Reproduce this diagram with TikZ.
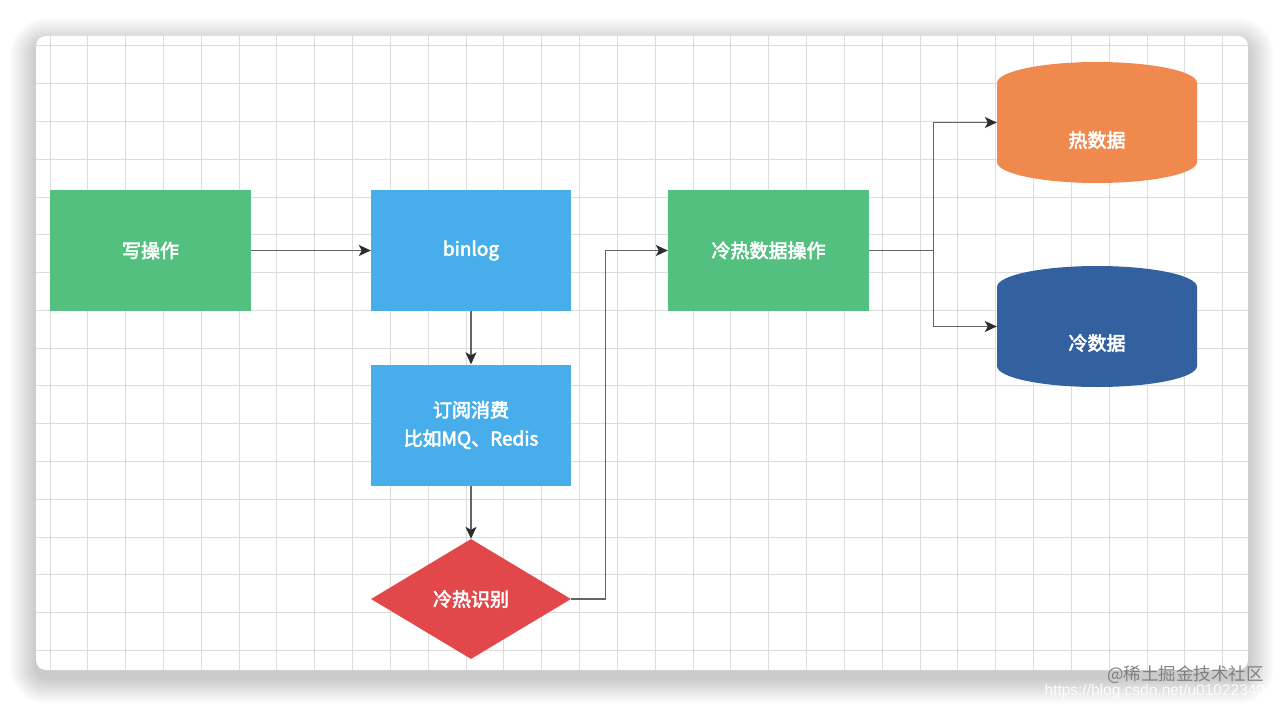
\documentclass[tikz,border=0pt]{standalone}
\usepackage{fontspec}
\setmainfont{Noto Sans CJK SC}
\newfontfamily\medfont{Noto Sans CJK SC}[FakeBold=3]
\newfontfamily\latinsans{Liberation Sans}
\usetikzlibrary{arrows.meta,shapes.geometric}
\definecolor{cgreen}{RGB}{83,192,127}
\definecolor{cblue}{RGB}{72,174,235}
\definecolor{cred}{RGB}{226,71,74}
\definecolor{corange}{RGB}{240,137,78}
\definecolor{cdblue}{RGB}{51,96,158}
\definecolor{cline}{RGB}{100,100,100}
\definecolor{ctip}{RGB}{45,45,45}
\definecolor{cgrid}{RGB}{220,220,220}
\newcommand{\mycyl}[3]{%
  \fill[#1] (#2,#3+21) .. controls (#2,#3+9.4) and (#2+44.8,#3) .. (#2+100,#3)
    .. controls (#2+155.2,#3) and (#2+200,#3+9.4) .. (#2+200,#3+21)
    -- (#2+200,#3+100) .. controls (#2+200,#3+111.6) and (#2+155.2,#3+121) .. (#2+100,#3+121)
    .. controls (#2+44.8,#3+121) and (#2,#3+111.6) .. (#2,#3+100) -- cycle;}
\tikzset{
  txt/.style={text=white,font=\medfont\fontsize{19}{28.5}\selectfont,align=center},
  boxnode/.style={txt,rectangle,inner sep=0pt,minimum width=#1,minimum height=121pt},
  boxnode/.default=200pt,
  decision/.style={txt,diamond,inner sep=0pt,minimum width=200pt,minimum height=120pt,fill=cred},
  cylbox/.style={rectangle,inner sep=0pt,minimum width=200pt,minimum height=121pt},
  edge/.style={draw=cline,line width=1.3pt,-{Stealth[length=12pt,width=11pt,inset=3pt,color=ctip]}},
  gridline/.style={draw=cgrid,line width=1pt},
}
\begin{document}
\begin{tikzpicture}[x=1pt,y=-1pt]
\useasboundingbox (0,0) rectangle (1284,706);
\fill[white] (0,0) rectangle (1284,706);
% soft shadow of the card
\foreach \k in {1,...,26}{
  \pgfmathsetmacro{\d}{\k*1.0}
  \pgfmathsetmacro{\r}{10+\d}
  \fill[black,opacity=0.0095,rounded corners=\r pt] (36-\d,36+8-\d) rectangle (1248+\d,670+8+\d);
}
\fill[white,rounded corners=10pt] (36,36) rectangle (1248,670);
\begin{scope}
  \clip[rounded corners=10pt] (36,36) rectangle (1248,670);
  \foreach \i in {0,...,31} \draw[gridline] ({50+37.83*\i},36) -- ({50+37.83*\i},670);
  \foreach \j in {0,...,16} \draw[gridline] (36,{46+37.77*\j}) -- (1248,{46+37.77*\j});
\end{scope}
% nodes
\node[boxnode=201pt,fill=cgreen] (write) at (150.5,250.5) {写操作};
\node[boxnode,fill=cblue] (binlog) at (471,250.5) {binlog};
\node[boxnode,fill=cblue] (sub) at (471,425) {订阅消费\\比如MQ、Redis};
\node[decision] (judge) at (471,599) {冷热识别};
\node[boxnode=201pt,fill=cgreen] (op) at (768.5,250.5) {冷热数据操作};
\mycyl{corange}{997}{62}
\mycyl{cdblue}{997}{266}
\node[cylbox,label={[txt,yshift=-17.5pt]center:热数据}] (hot) at (1097,122.5) {};
\node[cylbox,label={[txt,yshift=-16.5pt]center:冷数据}] (cold) at (1097,326.5) {};
% connectors
\draw[edge] (write) -- (binlog);
\draw[edge] (binlog) -- (sub);
\draw[edge] (sub) -- (judge);
\draw[edge] (judge.east) -- ([xshift=34pt]judge.east) |- (op.west);
\coordinate (split) at ([xshift=64pt]op.east);
\draw[edge] (op.east) -- (split) |- (hot.west);
\draw[edge] (split) |- (cold.west);
% watermark
\node[text=black!50,font=\fontsize{17.5}{19}\selectfont,anchor=east,inner sep=0pt] (wm) at (1264,675) {@稀土掘金技术社区};
\node[text=white,opacity=0.9,font=\latinsans\fontsize{15.5}{17}\selectfont,anchor=east,inner sep=0pt] (url) at (1274,691) {https://blog.csdn.net/u010223407};
\end{tikzpicture}
\end{document}
